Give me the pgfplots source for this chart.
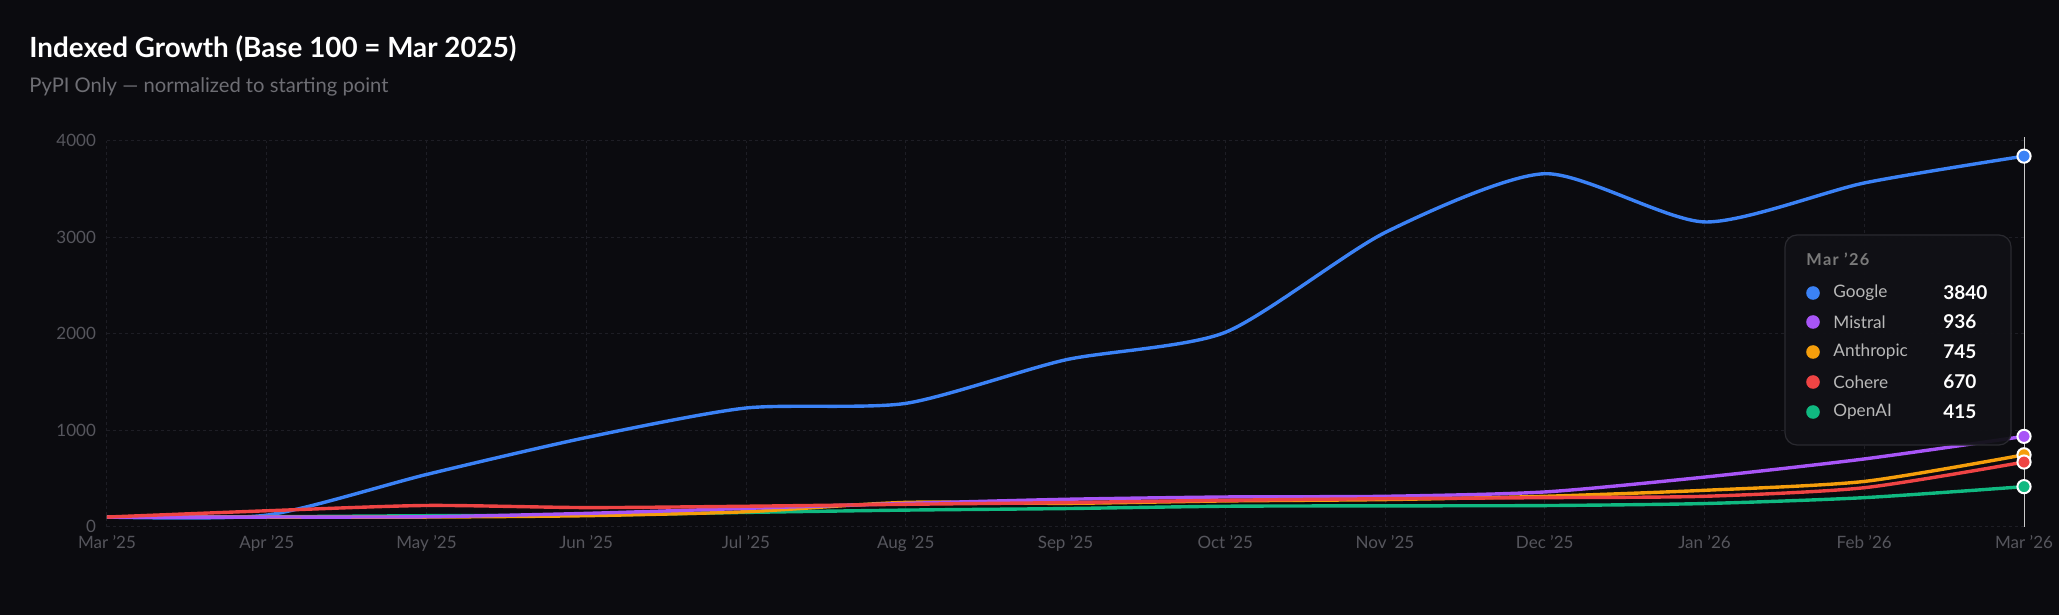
\documentclass[border=0pt]{standalone}
\usepackage{pgfplots}
\pgfplotsset{compat=1.18}
\usepackage{fontspec}
\setmainfont{Lato}

\definecolor{bg}{HTML}{0B0B0F}
\definecolor{gridc}{HTML}{1E1E25}
\definecolor{tickc}{HTML}{56565D}
\definecolor{subc}{HTML}{6E6E74}
\definecolor{tipfill}{HTML}{111116}
\definecolor{tipdraw}{HTML}{2A2A30}
\definecolor{google}{HTML}{3B82F6}
\definecolor{mistral}{HTML}{A855F7}
\definecolor{anthropic}{HTML}{F59E0B}
\definecolor{cohere}{HTML}{EF4444}
\definecolor{openai}{HTML}{10B981}

\begin{document}
\begin{tikzpicture}
% 1 px of the reference = 0.5pt; axis origin at (107,527) px
\fill[bg] (-53.5pt,-44.15pt) rectangle (976pt,263.35pt);
\path[use as bounding box] (-53.5pt,-44.15pt) rectangle (976pt,263.35pt);

\node[anchor=base west, text=white, font=\fontsize{13.9}{16}\selectfont\bfseries, inner sep=0pt]
  at (-39pt,234.4pt) {Indexed Growth (Base 100 = Mar 2025)};
\node[anchor=base west, text=subc, font=\fontsize{10.1}{12}\selectfont, inner sep=0pt]
  at (-39pt,217pt) {PyPI Only — normalized to starting point};

\begin{axis}[
    at={(0,0)}, anchor=south west,
    scale only axis, width=958.5pt, height=193pt,
    xmin=0, xmax=12, ymin=0, ymax=4000,
    clip=false,
    axis line style={draw=none},
    major tick length=0pt,
    xtick={0,...,12},
    xticklabels={Mar '25,Apr '25,May '25,Jun '25,Jul '25,Aug '25,Sep '25,Oct '25,Nov '25,Dec '25,Jan '26,Feb '26,Mar '26},
    ytick={0,1000,2000,3000,4000},
    grid=major,
    grid style={gridc, line width=0.5pt, dash pattern=on 1.5pt off 1.5pt},
    tick label style={text=tickc, font=\fontsize{8.5}{10}\selectfont},
    yticklabel style={anchor=east, xshift=-2pt},
    xticklabel style={anchor=north, yshift=-1pt},
    /pgf/number format/assume math mode=true,
    scaled y ticks=false,
    yticklabel={\pgfmathprintnumber[fixed,1000 sep={}]{\tick}},
    every axis plot/.append style={line width=1.7pt, smooth, tension=0.42},
]

\addplot[google] coordinates {
  (0,100) (1,120) (2,541) (3,924) (4,1230) (5,1278) (6,1729)
  (7,2014) (8,3048) (9,3658) (10,3158) (11,3562) (12,3840)
};
\addplot[openai] coordinates {
  (0,100) (1,103) (2,114) (3,120) (4,148) (5,172) (6,188)
  (7,212) (8,216) (9,219) (10,240) (11,301) (12,415)
};
\addplot[anthropic] coordinates {
  (0,100) (1,100) (2,100) (3,114) (4,155) (5,252) (6,242)
  (7,267) (8,281) (9,315) (10,377) (11,469) (12,745)
};
\addplot[mistral] coordinates {
  (0,100) (1,100) (2,103) (3,138) (4,190) (5,241) (6,284)
  (7,308) (8,315) (9,360) (10,514) (11,702) (12,936)
};
\addplot[cohere] coordinates {
  (0,100) (1,165) (2,220) (3,198) (4,212) (5,232) (6,250)
  (7,274) (8,290) (9,301) (10,315) (11,404) (12,670)
};

% hover cursor
\draw[white!80!black, line width=0.5pt] (axis cs:12,0) -- (axis cs:12,4040);

% end markers
\addplot[only marks, mark=*, mark size=3.3pt, mark options={fill=google, draw=white, line width=1pt}] coordinates {(12,3840)};
\addplot[only marks, mark=*, mark size=3.3pt, mark options={fill=mistral, draw=white, line width=1pt}] coordinates {(12,936)};
\addplot[only marks, mark=*, mark size=3.3pt, mark options={fill=anthropic, draw=white, line width=1pt}] coordinates {(12,745)};
\addplot[only marks, mark=*, mark size=3.3pt, mark options={fill=cohere, draw=white, line width=1pt}] coordinates {(12,670)};
\addplot[only marks, mark=*, mark size=3.3pt, mark options={fill=openai, draw=white, line width=1pt}] coordinates {(12,415)};
\end{axis}

% tooltip
\draw[fill=tipfill, draw=tipdraw, line width=0.6pt, rounded corners=6pt, fill opacity=0.95]
  (839pt,40.85pt) rectangle (952pt,145.85pt);
\node[anchor=base west, inner sep=0pt, text=white!48!black, font=\fontsize{8.2}{10}\selectfont\bfseries\addfontfeatures{LetterSpace=8}]
  at (849.5pt,130.5pt) {Mar '26};
\foreach \y/\c/\n/\v in {116.85/google/Google/3840, 102.35/mistral/Mistral/936,
    87.35/anthropic/Anthropic/745, 72.35/cohere/Cohere/670, 57.35/openai/OpenAI/415} {
  \fill[\c] (853pt,\y pt) circle (3.4pt);
  \node[anchor=west, inner sep=0pt, text=white!72!black, font=\fontsize{8.6}{10}\selectfont] at (863pt,\y pt) {\n};
  \node[anchor=west, inner sep=0pt, text=white, font=\fontsize{9.5}{11}\selectfont\bfseries] at (918pt,\y pt) {\v};
}
\end{tikzpicture}
\end{document}
